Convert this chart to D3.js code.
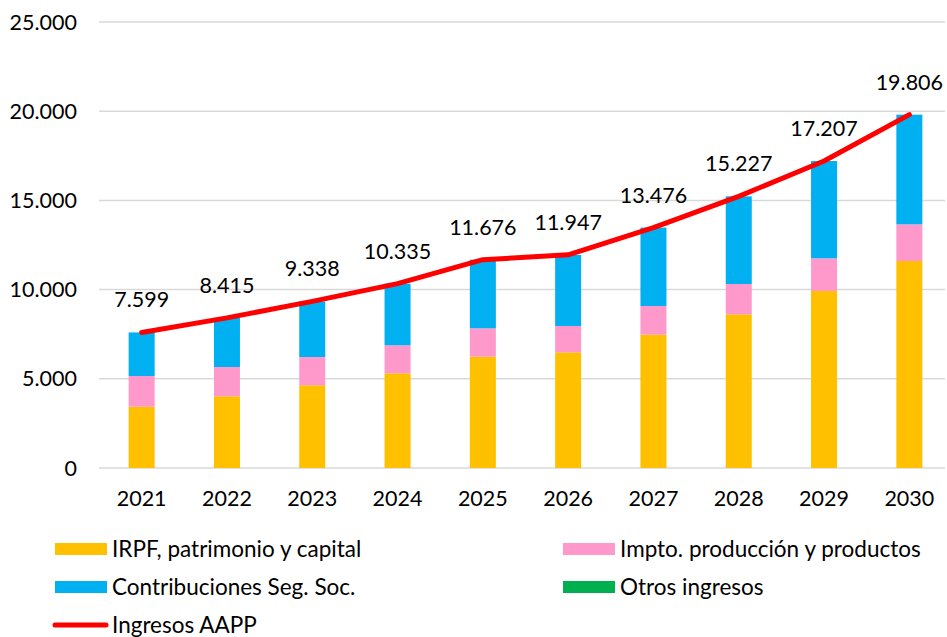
<!DOCTYPE html>
<html lang="es">
<head>
<meta charset="utf-8">
<title>Ingresos AAPP</title>
<script src="https://d3js.org/d3.v7.min.js"></script>
<style>
    body { margin: 0; background: #fff; }
    svg { display: block; font-family: Lato, "Noto Sans", sans-serif; }
    .tick-label { font-size: 21.5px; fill: #000; }
    .data-label { font-size: 21.5px; fill: #000; text-anchor: middle; }
    .legend-text { font-size: 22.5px; fill: #000; }
</style>
</head>
<body>
<script>
// data
const years = ["2021", "2022", "2023", "2024", "2025", "2026", "2027", "2028", "2029", "2030"];
const irpf = [3436, 4019, 4636, 5307, 6241, 6483, 7474, 8613, 9922, 11603];
const impto = [1721, 1642, 1586, 1570, 1588, 1477, 1607, 1701, 1830, 2055];
const contrib = [2442, 2754, 3116, 3458, 3847, 3987, 4395, 4913, 5455, 6148];
const otros = [0, 0, 0, 0, 0, 0, 0, 0, 0, 0];
const ingresos = [7599, 8415, 9338, 10335, 11676, 11947, 13476, 15227, 17207, 19806];
const yTicks = [0, 5000, 10000, 15000, 20000, 25000];

const seriesNames = ["IRPF, patrimonio y capital", "Impto. producción y productos",
    "Contribuciones Seg. Soc.", "Otros ingresos"];
const seriesColors = ["#ffc000", "#ff99cc", "#00b0f0", "#00b050"];
const lineName = "Ingresos AAPP";

const W = 947, H = 637;
const plot = { left: 99, right: 952, top: 22, bottom: 468 };

const fmt = d => d3.format(",")(d).replace(/,/g, ".");

const svg = d3.select("body").append("svg")
    .attr("width", W)
    .attr("height", H);

const x = d3.scaleBand()
    .domain(years)
    .range([plot.left, plot.right])
    .paddingInner(0.695)
    .paddingOuter(0.3475);

const y = d3.scaleLinear()
    .domain([0, 25000])
    .range([plot.bottom, plot.top]);

// gridlines
svg.append("g")
    .selectAll("line")
    .data(yTicks)
    .join("line")
    .attr("x1", plot.left)
    .attr("x2", 945)
    .attr("y1", d => y(d))
    .attr("y2", d => y(d))
    .attr("stroke", "#d9d9d9")
    .attr("stroke-width", 1.5);

// y labels
svg.append("g")
    .selectAll("text")
    .data(yTicks)
    .join("text")
    .attr("class", "tick-label")
    .attr("x", 77)
    .attr("y", d => y(d))
    .attr("dy", "0.35em")
    .attr("text-anchor", "end")
    .text(d => fmt(d));

// x labels
svg.append("g")
    .selectAll("text")
    .data(years)
    .join("text")
    .attr("class", "tick-label")
    .attr("x", d => x(d) + x.bandwidth() / 2)
    .attr("y", 506)
    .attr("text-anchor", "middle")
    .text(d => d);

// stacked bars
const rows = years.map((yr, i) => ({
    year: yr, s0: irpf[i], s1: impto[i], s2: contrib[i], s3: otros[i]
}));
const stack = d3.stack().keys(["s0", "s1", "s2", "s3"])(rows);

svg.append("g")
    .selectAll("g")
    .data(stack)
    .join("g")
    .attr("fill", (d, i) => seriesColors[i])
    .selectAll("rect")
    .data(d => d)
    .join("rect")
    .attr("x", d => x(d.data.year))
    .attr("y", d => y(d[1]))
    .attr("width", x.bandwidth())
    .attr("height", d => y(d[0]) - y(d[1]));

// line
const line = d3.line()
    .x((d, i) => x(years[i]) + x.bandwidth() / 2)
    .y(d => y(d));

svg.append("path")
    .datum(ingresos)
    .attr("d", line)
    .attr("fill", "none")
    .attr("stroke", "#ff0000")
    .attr("stroke-width", 5)
    .attr("stroke-linecap", "round")
    .attr("stroke-linejoin", "round");

// data labels
svg.append("g")
    .selectAll("text")
    .data(ingresos)
    .join("text")
    .attr("class", "data-label")
    .attr("x", (d, i) => x(years[i]) + x.bandwidth() / 2)
    .attr("y", d => y(d) - 25)
    .text(d => fmt(d));

// legend
const legendItems = [
    { name: seriesNames[0], color: seriesColors[0], lx: 55, ly: 549 },
    { name: seriesNames[1], color: seriesColors[1], lx: 563, ly: 549 },
    { name: seriesNames[2], color: seriesColors[2], lx: 55, ly: 587 },
    { name: seriesNames[3], color: seriesColors[3], lx: 563, ly: 587 }
];

const lg = svg.append("g");
legendItems.forEach(it => {
    lg.append("rect")
        .attr("x", it.lx)
        .attr("y", it.ly - 6)
        .attr("width", 52)
        .attr("height", 12)
        .attr("fill", it.color);
    lg.append("text")
        .attr("class", "legend-text")
        .attr("x", it.lx + 57)
        .attr("y", it.ly)
        .attr("dy", "0.35em")
        .text(it.name);
});
lg.append("line")
    .attr("x1", 55).attr("x2", 106)
    .attr("y1", 625).attr("y2", 625)
    .attr("stroke", "#ff0000")
    .attr("stroke-width", 5)
    .attr("stroke-linecap", "round");
lg.append("text")
    .attr("class", "legend-text")
    .attr("x", 112)
    .attr("y", 625)
    .attr("dy", "0.35em")
    .text(lineName);
</script>
</body>
</html>
